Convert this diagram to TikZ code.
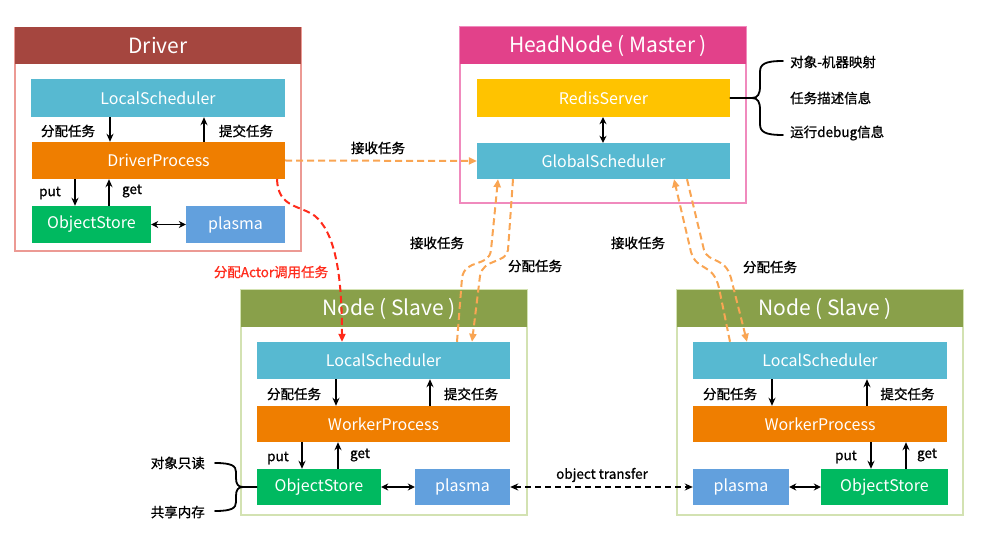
\documentclass[tikz,border=0pt]{standalone}
\usepackage{fontspec}
\setmainfont{Noto Sans CJK SC}
\newfontfamily\lblfont[FakeBold=0.9]{Noto Sans CJK SC}
\usetikzlibrary{arrows.meta,calc}
\definecolor{drvred}{HTML}{A5463F}
\definecolor{drvframe}{HTML}{EC9A94}
\definecolor{headpink}{HTML}{E2418A}
\definecolor{headframe}{HTML}{F08ABD}
\definecolor{nodegreen}{HTML}{89A04A}
\definecolor{nodeframe}{HTML}{D3E2B2}
\definecolor{cyanbox}{HTML}{57B9D1}
\definecolor{orangebox}{HTML}{EF7E00}
\definecolor{greenbox}{HTML}{00B960}
\definecolor{bluebox}{HTML}{62A0DD}
\definecolor{yellowbox}{HTML}{FFC300}
\definecolor{dashor}{HTML}{F9A553}
\definecolor{dashred}{HTML}{FF2B1B}
\begin{document}
\begin{tikzpicture}[x=1pt,y=-1pt,
  box/.style={rectangle, inner sep=0pt, text=white, font=\fontsize{16}{18}\selectfont},
  frame/.style={rectangle, draw, line width=1.2pt, fill=white, inner sep=0pt},
  titlebar/.style={rectangle, inner sep=0pt, text=white, font=\fontsize{21}{24}\selectfont, minimum width=286pt, minimum height=37pt},
  lbl/.style={font=\lblfont\fontsize{13.5}{15}\selectfont, text=black, inner sep=0pt},
  arr/.style={line width=1.8pt, -{Stealth[length=8pt,width=7pt]}},
  darr/.style={line width=1.8pt, {Stealth[length=7pt,width=7pt]}-{Stealth[length=7pt,width=7pt]}},
  odash/.style={draw=dashor, line width=2pt, dash pattern=on 7pt off 4pt, -{Triangle[length=8pt,width=7pt]}},
  rdash/.style={draw=dashred, line width=2pt, dash pattern=on 7pt off 4pt, -{Triangle[length=8pt,width=7pt]}},
  kdash/.style={draw=black, line width=1.8pt, dash pattern=on 6pt off 4pt, {Stealth[length=8pt,width=7pt]}-{Stealth[length=8pt,width=7pt]}},
  brace/.style={line width=1.8pt, line cap=round}
]
\useasboundingbox (0,0) rectangle (1002,545);

% ---------------- Driver ----------------
\node[frame, draw=drvframe, minimum width=286pt, minimum height=223pt] (drvf) at (158,139.5) {};
\node[titlebar, fill=drvred] (drvt) at (158,46) {Driver};
\node[box, fill=cyanbox, minimum width=254pt, minimum height=38pt] (ls1) at (158,98) {LocalScheduler};
\node[box, fill=orangebox, minimum width=253pt, minimum height=37pt] (dp) at (158.5,160.5) {DriverProcess};
\node[box, fill=greenbox, minimum width=119pt, minimum height=37pt] (os1) at (91.5,224.5) {ObjectStore};
\node[box, fill=bluebox, minimum width=99pt, minimum height=37pt] (pl1) at (235.5,224.5) {plasma};
\draw[arr] (ls1.south -| 110,0) -- (dp.north -| 110,0);
\draw[arr] (dp.north -| 204,0) -- (ls1.south -| 204,0);
\draw[arr] (dp.south -| 75,0) -- (os1.north -| 75,0);
\draw[arr] (os1.north -| 109,0) -- (dp.south -| 109,0);
\draw[darr] (os1.east) -- (pl1.west);
\node[lbl] (l1a) at (68,131) {分配任务};
\node[lbl] (l1b) at (246,131) {提交任务};
\node[lbl] (l1c) at (50,193) {put};
\node[lbl] (l1d) at (132,191) {get};

% ---------------- HeadNode ----------------
\node[frame, draw=headframe, minimum width=286pt, minimum height=176pt] (hdf) at (603,115) {};
\node[titlebar, fill=headpink] (hdt) at (603,45.5) {\hspace*{10pt}HeadNode ( Master )};
\node[box, fill=yellowbox, minimum width=253pt, minimum height=38pt] (rs) at (603.5,98) {RedisServer};
\node[box, fill=cyanbox, minimum width=253pt, minimum height=36pt] (gs) at (603.5,161) {GlobalScheduler};
\draw[darr] (rs.south -| 603,0) -- (gs.north -| 603,0);
\coordinate (bt) at (783,61);
\coordinate (bb) at (783,135);
\draw[brace] (rs.east) -- (752,98) .. controls (758,98) and (760,94) .. (760,86) -- (760,72) .. controls (760,64) and (765,61) .. (bt);
\draw[brace] (752,98) .. controls (758,98) and (760,102) .. (760,110) -- (760,124) .. controls (760,132) and (765,135) .. (bb);
\node[lbl, anchor=west] (r1) at (790,62) {对象-机器映射};
\node[lbl, anchor=west] (r2) at (790,98) {任务描述信息};
\node[lbl, anchor=west] (r3) at (790,133) {运行debug信息};

% ---------------- Node left ----------------
\node[frame, draw=nodeframe, minimum width=286pt, minimum height=225pt] (n1f) at (384,402.5) {};
\node[titlebar, fill=nodegreen] (n1t) at (384,308.5) {\hspace*{10pt}Node ( Slave )};
\node[box, fill=cyanbox, minimum width=253pt, minimum height=37pt] (ls2) at (383.5,360.5) {LocalScheduler};
\node[box, fill=orangebox, minimum width=253pt, minimum height=36pt] (wp2) at (383.5,424) {WorkerProcess};
\node[box, fill=greenbox, minimum width=124pt, minimum height=36pt] (os2) at (319,487) {ObjectStore};
\node[box, fill=bluebox, minimum width=95pt, minimum height=36pt] (pl2) at (462.5,487) {plasma};
\draw[arr] (ls2.south -| 336,0) -- (wp2.north -| 336,0);
\draw[arr] (wp2.north -| 430,0) -- (ls2.south -| 430,0);
\draw[arr] (wp2.south -| 302,0) -- (os2.north -| 302,0);
\draw[arr] (os2.north -| 338,0) -- (wp2.south -| 338,0);
\draw[darr] (os2.east) -- (pl2.west);
\node[lbl] (l2a) at (294,394) {分配任务};
\node[lbl] (l2b) at (471,394) {提交任务};
\node[lbl] (l2c) at (278,458) {put};
\node[lbl] (l2d) at (360,455) {get};
\coordinate (lbt) at (215,463);
\coordinate (lbb) at (215,511);
\draw[brace] (os2.west) -- (243,487) .. controls (238,487) and (236,484) .. (236,478) -- (236,472) .. controls (236,466) and (232,463) .. (lbt);
\draw[brace] (243,487) .. controls (238,487) and (236,490) .. (236,496) -- (236,502) .. controls (236,508) and (232,511) .. (lbb);
\node[lbl, anchor=east] (lb1) at (205,463) {对象只读};
\node[lbl, anchor=east] (lb2) at (205,512) {共享内存};

% ---------------- Node right ----------------
\node[frame, draw=nodeframe, minimum width=286pt, minimum height=225pt] (n2f) at (820,402.5) {};
\node[titlebar, fill=nodegreen] (n2t) at (820,308.5) {\hspace*{10pt}Node ( Slave )};
\node[box, fill=cyanbox, minimum width=254pt, minimum height=37pt] (ls3) at (820,360.5) {LocalScheduler};
\node[box, fill=orangebox, minimum width=254pt, minimum height=36pt] (wp3) at (820,424) {WorkerProcess};
\node[box, fill=bluebox, minimum width=96pt, minimum height=36pt] (pl3) at (741,487) {plasma};
\node[box, fill=greenbox, minimum width=127pt, minimum height=36pt] (os3) at (884.5,487) {ObjectStore};
\draw[arr] (ls3.south -| 772,0) -- (wp3.north -| 772,0);
\draw[arr] (wp3.north -| 867,0) -- (ls3.south -| 867,0);
\draw[arr] (wp3.south -| 871,0) -- (os3.north -| 871,0);
\draw[arr] (os3.north -| 906,0) -- (wp3.south -| 906,0);
\draw[darr] (pl3.east) -- (os3.west);
\node[lbl] (l3a) at (730,394) {分配任务};
\node[lbl] (l3b) at (907.5,394) {提交任务};
\node[lbl] (l3c) at (846,457) {put};
\node[lbl] (l3d) at (927,455) {get};

% ---------------- inter-node connectors ----------------
\draw[odash] (dp.east) -- (gs.west);
\node[lbl] (lrecv0) at (378,148) {接收任务};

\draw[rdash] (dp.south -| 277,0) .. controls (278,208) and (300,205) .. (315,216) .. controls (334,232) and (342,270) .. (ls2.north -| 342,0);
\node[lbl, text=dashred] (lactor) at (271,272) {分配Actor调用任务};

\draw[odash] (ls2.north -| 457,0) -- (462,278) .. controls (465,258) and (489,268) .. (491,250) -- (gs.south -| 498,0);
\draw[odash] (gs.south -| 513,0) -- (508,250) .. controls (506,264) and (483,258) .. (480,276) -- (ls2.north -| 472,0);
\node[lbl] (lrecv1) at (437,243) {接收任务};
\node[lbl] (ldist1) at (535,266) {分配任务};

\draw[odash] (ls3.north -| 730,0) -- (719,288) .. controls (713,262) and (697,272) .. (691,252) -- (gs.south -| 674,0);
\draw[odash] (gs.south -| 687,0) -- (704,250) .. controls (709,264) and (725,256) .. (731,278) -- (ls3.north -| 747,0);
\node[lbl] (lrecv2) at (638,243) {接收任务};
\node[lbl] (ldist2) at (770,267) {分配任务};

\draw[kdash] (pl2.east) -- (pl3.west);
\node[lbl] (lot) at (602,475) {object transfer};
\end{tikzpicture}
\end{document}
